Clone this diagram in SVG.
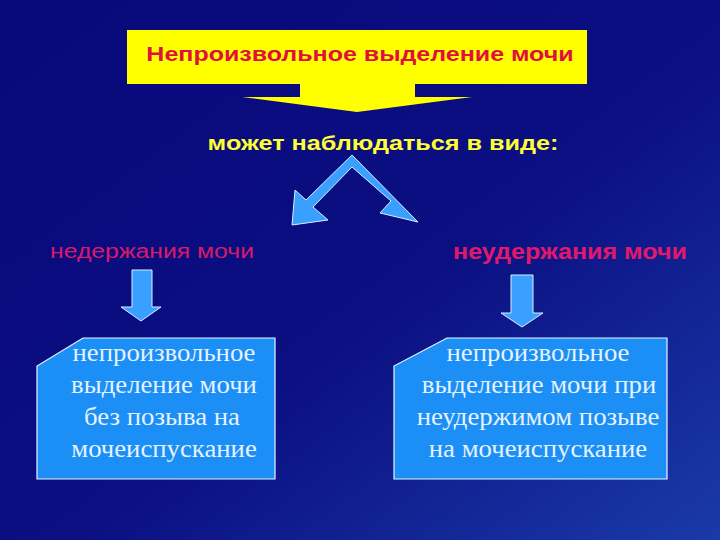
<svg xmlns="http://www.w3.org/2000/svg" width="720" height="540" viewBox="0 0 720 540">
<defs>
<linearGradient id="bg" x1="0" y1="0" x2="1" y2="1">
<stop offset="0" stop-color="#08087a"/>
<stop offset="0.55" stop-color="#0b0f82"/>
<stop offset="1" stop-color="#1a3aa8"/>
</linearGradient>
<style>
.sans{font-family:"Liberation Sans",Arial,sans-serif;text-anchor:middle}
.serif{font-family:"Liberation Serif","Times New Roman",serif;fill:#e6f2ff;font-size:25px;text-anchor:middle}
.box{fill:#1b8ff5;stroke:#e8f4ff;stroke-width:1.2}
.arr{fill:#3aa0ff;stroke:#dbeeff;stroke-width:1}
</style>
</defs>
<rect width="720" height="540" fill="url(#bg)"/>
<g id="title">
<rect x="127" y="30" width="460" height="54" fill="#ffff00"/>
<polygon points="300,84 415,84 415,97 472,97 357,112 242,97 300,97" fill="#ffff00"/>
<text class="sans" transform="translate(360,61) scale(1.25,1)" font-size="20" font-weight="bold" fill="#e0103c">Непроизвольное выделение мочи</text>
</g>
<g id="subtitle">
<text class="sans" transform="translate(383,150) scale(1.23,1)" font-size="20.5" font-weight="bold" fill="#ffff33">может наблюдаться в виде:</text>
</g>
<g id="left-label">
<text class="sans" transform="translate(152,258) scale(1.18,1)" font-size="21" fill="#d81a6a">недержания мочи</text>
</g>
<g id="right-label">
<text class="sans" transform="translate(570,259) scale(1.14,1)" font-size="22" font-weight="bold" fill="#e0196a">неудержания мочи</text>
</g>
<g id="left-box">
<polygon class="box" points="83,338 275,338 275,479 37,479 37,366"/>
<text class="serif" transform="translate(164,361) scale(1.07,1)">непроизвольное</text>
<text class="serif" transform="translate(164,393) scale(1.07,1)">выделение мочи</text>
<text class="serif" transform="translate(162,425) scale(1.07,1)">без позыва на</text>
<text class="serif" transform="translate(164,457) scale(1.07,1)">мочеиспускание</text>
</g>
<g id="right-box">
<polygon class="box" points="447,338 667,338 667,479 394,479 394,366"/>
<text class="serif" transform="translate(538,361) scale(1.07,1)">непроизвольное</text>
<text class="serif" transform="translate(539,393) scale(1.07,1)">выделение мочи при</text>
<text class="serif" transform="translate(538,425) scale(1.07,1)">неудержимом позыве</text>
<text class="serif" transform="translate(538,457) scale(1.07,1)">на мочеиспускание</text>
</g>
<g id="connectors">
<polygon class="arr" points="352,155 418,222 380,213 391,201 352,167 313,207 328,220 292,225 295,190 306,200"/>
<polygon class="arr" points="132,270 152,270 152,307 161,307 141,321 121,307 132,307"/>
<polygon class="arr" points="511,275 533,275 533,313 543,313 522,327 501,313 511,313"/>
</g>
</svg>
